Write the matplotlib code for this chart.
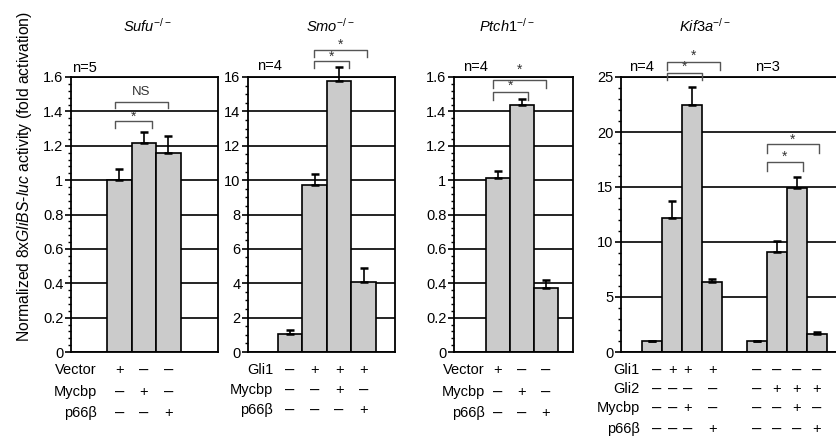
import matplotlib
matplotlib.use("Agg")
import matplotlib.pyplot as plt
import matplotlib.transforms as mtransforms
from matplotlib.ticker import MultipleLocator, FuncFormatter
import numpy as np

plt.rcParams['font.family'] = ['Liberation Sans', 'DejaVu Sans']
plt.rcParams['mathtext.fontset'] = 'custom'
plt.rcParams['mathtext.rm'] = 'Liberation Sans'
plt.rcParams['mathtext.it'] = 'Liberation Sans:italic'
plt.rcParams['mathtext.bf'] = 'Liberation Sans:bold'

# ---------------- data ----------------
titles = ["Sufu", "Smo", "Ptch1", "Kif3a"]
n_labels = ["n=5", "n=4", "n=4", "n=4", "n=3"]

sufu_vals = [1.0, 1.215, 1.155]
sufu_err = [0.062, 0.065, 0.10]
smo_vals = [1.03, 9.7, 15.75, 4.09]
smo_err = [0.25, 0.65, 0.85, 0.80]
ptch_vals = [1.01, 1.44, 0.375]
ptch_err = [0.045, 0.03, 0.045]
kif_g1_vals = [1.0, 12.2, 22.5, 6.35]
kif_g1_err = [0.0, 1.55, 1.6, 0.3]
kif_g2_vals = [1.0, 9.1, 14.9, 1.65]
kif_g2_err = [0.0, 1.0, 1.0, 0.15]

sufu_rows = ["Vector", "Mycbp", "p66\u03b2"]
sufu_signs = [["+", "-", "-"], ["-", "+", "-"], ["-", "-", "+"]]
smo_rows = ["Gli1", "Mycbp", "p66\u03b2"]
smo_signs = [["-", "+", "+", "+"], ["-", "-", "+", "-"], ["-", "-", "-", "+"]]
ptch_rows = ["Vector", "Mycbp", "p66\u03b2"]
ptch_signs = [["+", "-", "-"], ["-", "+", "-"], ["-", "-", "+"]]
kif_rows = ["Gli1", "Gli2", "Mycbp", "p66\u03b2"]
kif_signs = [["-", "+", "+", "+", "-", "-", "-", "-"],
             ["-", "-", "-", "-", "-", "+", "+", "+"],
             ["-", "-", "+", "-", "-", "-", "+", "-"],
             ["-", "-", "-", "+", "-", "-", "-", "+"]]

# ---------------- layout ----------------
W, H = 837, 442
fig = plt.figure(figsize=(W / 100, H / 100), dpi=100)

def fx(px):
    return px / W

def fy(py):
    return 1 - py / H

TOP, BOT = 77, 352
BAR_COLOR = "#cbcbcb"
FS = 10.5

def make_ax(left_px, right_px, xlim, ymax, major, minor, right_spine=True):
    ax = fig.add_axes([fx(left_px), fy(BOT), fx(right_px - left_px), (BOT - TOP) / H])
    ax.set_xlim(*xlim)
    ax.set_ylim(0, ymax)
    ax.yaxis.set_major_locator(MultipleLocator(major))
    ax.yaxis.set_minor_locator(MultipleLocator(minor))
    ax.yaxis.set_major_formatter(FuncFormatter(lambda v, p: "%g" % round(v, 3)))
    ax.set_xticks([])
    ax.tick_params(axis='y', which='major', direction='out', length=4.5, width=1.2,
                   labelsize=FS, pad=1)
    ax.tick_params(axis='y', which='minor', direction='out', length=2.5, width=1.0)
    ax.grid(axis='y', which='major', color='black', linewidth=1.2)
    ax.set_axisbelow(True)
    for s in ax.spines.values():
        s.set_linewidth(1.3)
    ax.spines['bottom'].set_zorder(6)
    if not right_spine:
        ax.spines['right'].set_visible(False)
    return ax

def draw_bars(ax, xs, vals, errs):
    ax.bar(xs, vals, width=1.0, color=BAR_COLOR, edgecolor='black', linewidth=1.2, zorder=3)
    lower = [0] * len(vals)
    eb = ax.errorbar(xs, vals, yerr=[lower, errs], fmt='none', ecolor='black',
                     elinewidth=1.2, capsize=3.2, capthick=1.8, zorder=4)
    for art in eb.get_children():
        art.set_clip_on(False)

def bracket(ax, x0, x1, y, ybot, label, ylab, fs=10):
    ax.plot([x0, x0, x1, x1], [ybot, y, y, ybot], color='#555555', lw=1.0,
            clip_on=False, zorder=6)
    ax.text((x0 + x1) / 2, ylab, label, ha='center', va='center', fontsize=fs,
            color='#333333', clip_on=False)

def table(ax, row_labels, signs, label_right_px, row_px, xpos):
    tr = mtransforms.blended_transform_factory(ax.transData, fig.transFigure)
    for r, lab in enumerate(row_labels):
        fig.text(fx(label_right_px), fy(row_px[r]), lab, ha='right', va='center', fontsize=FS)
        for c, s in enumerate(signs[r]):
            if s == "+":
                ax.text(xpos[c], fy(row_px[r]), "+", ha='center', va='center',
                        fontsize=FS, transform=tr)
            else:
                ax.text(xpos[c], fy(row_px[r]), "\u2013", ha='center', va='center',
                        fontsize=12, transform=tr)

def title(cx_px, name):
    fig.text(fx(cx_px), fy(26), r"$\mathit{%s}^{\mathit{-/-}}$" % name, ha='center',
             va='center', fontsize=10.5)

# ---- Sufu ----
ax1 = make_ax(71, 218, (-1.97, 4.03), 1.6, 0.2, 0.04)
x1 = np.arange(len(sufu_vals))
draw_bars(ax1, x1, sufu_vals, sufu_err)
bracket(ax1, -0.17, 1.32, 1.345, 1.302, "*", 1.37)
bracket(ax1, -0.17, 1.98, 1.455, 1.419, "NS", 1.51, fs=9.5)
table(ax1, sufu_rows, sufu_signs, 97, [370, 392, 413], x1)
title(147, titles[0])
fig.text(fx(84), fy(68), n_labels[0], ha='center', va='center', fontsize=FS)

# ---- Smo ----
ax2 = make_ax(248, 395, (-1.72, 4.28), 16, 2, 0.5)
x2 = np.arange(len(smo_vals))
draw_bars(ax2, x2, smo_vals, smo_err)
bracket(ax2, 0.97, 2.41, 16.92, 16.51, "*", 17.2)
bracket(ax2, 0.97, 3.12, 17.56, 17.15, "*", 17.88)
table(ax2, smo_rows, smo_signs, 273, [370, 390, 410], x2)
title(330, titles[1])
fig.text(fx(269), fy(66), n_labels[1], ha='center', va='center', fontsize=FS)

# ---- Ptch1 ----
ax3 = make_ax(454, 573, (-1.83, 3.13), 1.6, 0.2, 0.04)
x3 = np.arange(len(ptch_vals))
draw_bars(ax3, x3, ptch_vals, ptch_err)
bracket(ax3, -0.205, 1.25, 1.513, 1.465, "*", 1.55)
bracket(ax3, -0.205, 2.0, 1.585, 1.535, "*", 1.64)
table(ax3, ptch_rows, ptch_signs, 485, [370, 392, 413], x3)
title(507, titles[2])
fig.text(fx(475), fy(67), n_labels[2], ha='center', va='center', fontsize=FS)

# ---- Kif3a ----
ax4 = make_ax(621, 837, (-1.55, 9.25), 25, 5, 1, right_spine=False)
xg1 = np.arange(4)
xg2 = np.arange(4) + 5.25
draw_bars(ax4, xg1, kif_g1_vals, kif_g1_err)
draw_bars(ax4, xg2, kif_g2_vals, kif_g2_err)
bracket(ax4, 0.75, 2.5, 25.4, 24.73, "*", 25.95)
bracket(ax4, 0.75, 3.4, 26.4, 25.64, "*", 26.9)
bracket(ax4, 5.75, 7.55, 17.25, 16.48, "*", 17.75)
bracket(ax4, 5.75, 8.35, 18.88, 18.12, "*", 19.3)
kif_mark_x = [0.25, 1.05, 1.8, 3.05] + list(xg2)
table(ax4, kif_rows, kif_signs, 640, [370, 389, 408, 429], kif_mark_x)
title(705, titles[3])
fig.text(fx(641), fy(67), n_labels[3], ha='center', va='center', fontsize=FS)
fig.text(fx(767), fy(67), n_labels[4], ha='center', va='center', fontsize=FS)

# ---- y label ----
fig.text(fx(25), fy(176),
         r"Normalized 8x$\mathit{GliBS}$-$\mathit{luc}$ activity (fold activation)",
         rotation=90, ha='center', va='center', fontsize=11.3)

fig.savefig("out.png", dpi=100)
